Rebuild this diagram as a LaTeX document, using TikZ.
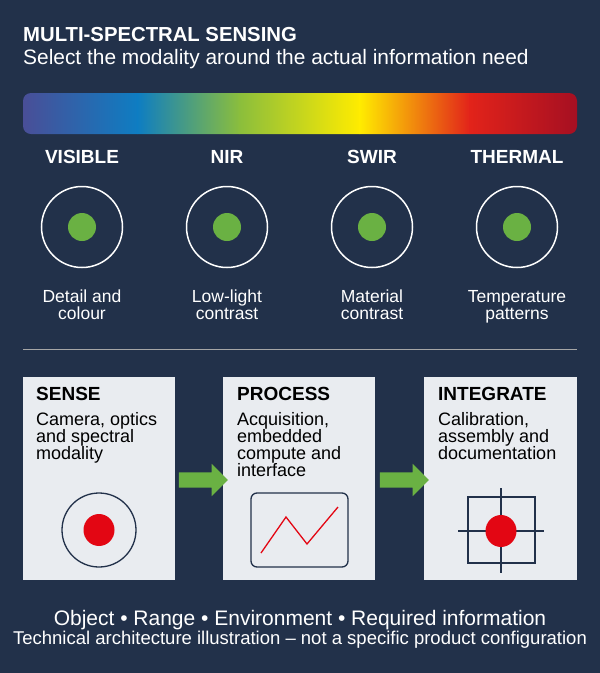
\documentclass[tikz,border=0pt]{standalone}
\usepackage{fontspec}
\setmainfont{Liberation Sans}
\usetikzlibrary{shapes.arrows}
\definecolor{bg}{HTML}{22314A}
\definecolor{gr}{HTML}{6AB143}
\definecolor{rd}{HTML}{E30613}
\definecolor{bx}{HTML}{E9ECF0}
\definecolor{dk}{HTML}{22314A}
\definecolor{c1}{HTML}{4A4E97}
\definecolor{c2}{HTML}{0E7DC2}
\definecolor{c3}{HTML}{8BBE3C}
\definecolor{c4}{HTML}{FFEC00}
\definecolor{c5}{HTML}{E2231A}
\definecolor{c6}{HTML}{A50F22}
\begin{document}
\begin{tikzpicture}[x=1pt,y=-1pt,
 lab/.style={text=white,font=\bfseries\fontsize{19}{20}\selectfont},
 desc/.style={text=white,align=center,anchor=base,font=\fontsize{17.5}{17}\selectfont},
 ring/.style={draw=white,line width=1.5pt,circle,minimum size=81pt,inner sep=0},
 dot/.style={fill=gr,circle,minimum size=28pt,inner sep=0},
 box/.style={fill=bx,anchor=north west,minimum width=152pt,minimum height=203pt,inner sep=0},
 bt/.style={anchor=north west,text=black,inner sep=0,font=\bfseries\fontsize{19}{21}\selectfont},
 bd/.style={anchor=north west,text=black,align=left,inner sep=0,font=\fontsize{18}{17}\selectfont},
 arr/.style={single arrow,fill=gr,minimum height=49pt,minimum width=32pt,single arrow head extend=8.5pt,inner sep=7.5pt}]
\fill[bg] (0,0) rectangle (600,673);
\useasboundingbox (0,0) rectangle (600,673);
\node[anchor=base west,text=white,font=\bfseries\fontsize{20.3}{22}\selectfont,inner sep=0] (t) at (23,41) {MULTI-SPECTRAL SENSING};
\node[anchor=base west,text=white,font=\fontsize{20.9}{23}\selectfont,inner sep=0] (st) at (23,64) {Select the modality around the actual information need};
\begin{scope}
\clip[rounded corners=8pt] (23,93) rectangle (577,134);
\shade[left color=c1,right color=c2] (22,93) rectangle (138,134);
\shade[left color=c2,right color=c3] (137.5,93) rectangle (240,134);
\shade[left color=c3,right color=c4] (239.5,93) rectangle (360,134);
\shade[left color=c4,right color=c5] (359.5,93) rectangle (470,134);
\shade[left color=c5,right color=c6] (469.5,93) rectangle (578,134);
\end{scope}
\foreach \x/\n/\a/\b [count=\i] in {82/VISIBLE/Detail and/colour,227/NIR/Low-light/contrast,372/SWIR/Material/contrast,517/THERMAL/Temperature/patterns}{
 \node[lab] (l\i) at (\x,157) {\n};
 \node[ring] (r\i) at (\x,227) {};
 \node[dot] (d\i) at (\x,227) {};
 \node[desc] (s\i) at (\x,319) {\a\\\b};
}
\draw[gray!70,line width=0.8pt] (23,349) -- (577,349);
\node[box] (b1) at (23,377) {};
\node[box] (b2) at (223,377) {};
\node[box,minimum width=153pt] (b3) at (424,377) {};
\node[bt] at (36,387) {SENSE};
\node[bt] at (237,387) {PROCESS};
\node[bt] at (438,387) {INTEGRATE};
\node[bd] at (36,412) {Camera, optics\\and spectral\\modality};
\node[bd] at (237,412) {Acquisition,\\embedded\\compute and\\interface};
\node[bd] at (438,412) {Calibration,\\assembly and\\documentation};
\node[arr] (a1) at (199.5,480) {};
\node[arr] (a2) at (400.5,480) {};
\draw[dk,line width=1.3pt] (99,530) circle (37);
\fill[rd] (99,530) ellipse (15.5 and 16);
\draw[dk,line width=1.3pt,rounded corners=6pt] (251,493) rectangle (348,567);
\draw[rd,line width=1.3pt] (261,553) -- (286,517) -- (307,544) -- (338,507);
\draw[dk,line width=1.3pt] (468,497) rectangle (535,563);
\draw[dk,line width=1.3pt] (501,488) -- (501,573) (458,531) -- (544,531);
\fill[rd] (501,531) ellipse (15.5 and 16);
\node[text=white,font=\fontsize{21}{22}\selectfont] (f1) at (300,620) {Object • Range • Environment • Required information};
\node[text=white,font=\fontsize{18.5}{20}\selectfont] (f2) at (300,640) {Technical architecture illustration – not a specific product configuration};
\end{tikzpicture}
\end{document}
